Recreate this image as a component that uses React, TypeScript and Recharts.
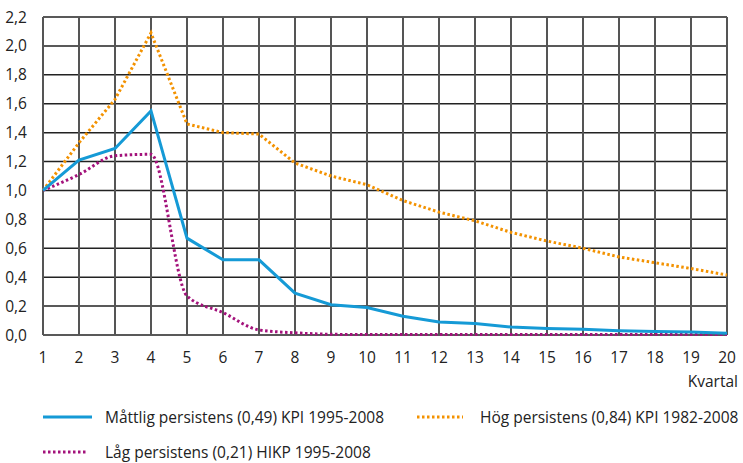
import { CartesianGrid, Line, LineChart, XAxis, YAxis } from 'recharts';

const quarters = [1, 2, 3, 4, 5, 6, 7, 8, 9, 10, 11, 12, 13, 14, 15, 16, 17, 18, 19, 20];
const moderate = [1.0, 1.21, 1.29, 1.55, 0.67, 0.52, 0.52, 0.29, 0.21, 0.19, 0.13, 0.09, 0.08, 0.055, 0.045, 0.04, 0.03, 0.025, 0.02, 0.012];
const high = [1.0, 1.33, 1.63, 2.09, 1.46, 1.4, 1.39, 1.19, 1.1, 1.04, 0.93, 0.85, 0.79, 0.71, 0.65, 0.6, 0.54, 0.5, 0.46, 0.415];
const low = [1.0, 1.11, 1.24, 1.25, 0.27, 0.155, 0.035, 0.015, 0.005, 0.003, 0.003, 0.003, 0.003, 0.003, 0.003, 0.003, 0.003, 0.003, 0.003, 0.003];
const yTicks = [0, 0.2, 0.4, 0.6, 0.8, 1.0, 1.2, 1.4, 1.6, 1.8, 2.0, 2.2];

const BLUE = '#159ad6';
const ORANGE = '#f39200';
const PURPLE = '#a3127b';
const FONT = '"Open Sans", "Noto Sans", sans-serif';
const FS = 15.5;

const data = quarters.map((q, i) => ({ q, moderate: moderate[i], high: high[i], low: low[i] }));

function LegendItem({ color, dashed, label, lineW, gap }: { color: string; dashed?: boolean; label: string; lineW: number; gap: number }) {
  return (
    <div style={{ display: 'flex', alignItems: 'center', whiteSpace: 'nowrap' }}>
      <svg width={lineW} height={6} style={{ marginRight: gap }}>
        <line x1={0} y1={3} x2={lineW} y2={3} stroke={color} strokeWidth={3} strokeDasharray={dashed ? '2.5 2.5' : undefined} />
      </svg>
      <span>{label}</span>
    </div>
  );
}

export default function App() {
  const tickStyle = { fill: '#222', fontSize: FS, fontFamily: FONT };
  const legendBox = { position: 'absolute' as const, fontSize: FS, color: '#222', lineHeight: '20px' };
  return (
    <div style={{ position: 'absolute', left: 0, top: 0, width: 743, height: 463, background: '#fff', fontFamily: FONT }}>
      <LineChart width={743} height={463} data={data} margin={{ top: 17, right: 16, left: 0, bottom: 0 }}>
        <CartesianGrid vertical={false} stroke="#222" strokeWidth={1.5} />
        <CartesianGrid horizontal={false} stroke="#555" strokeWidth={2} />
        <XAxis
          dataKey="q"
          type="number"
          domain={[1, 20]}
          ticks={quarters}
          height={128}
          axisLine={false}
          tickLine={false}
          tickMargin={11}
          tick={tickStyle}
        />
        <YAxis
          type="number"
          domain={[0, 2.2]}
          ticks={yTicks}
          width={43}
          axisLine={false}
          tickLine={false}
          tickMargin={10}
          tick={tickStyle}
          tickFormatter={(v: number) => v.toFixed(1).replace('.', ',')}
        />
        <Line type="linear" dataKey="high" stroke={ORANGE} strokeWidth={3} strokeDasharray="2.5 2.5" dot={false} isAnimationActive={false} />
        <Line type="monotone" dataKey="low" stroke={PURPLE} strokeWidth={3} strokeDasharray="2.5 2.5" dot={false} isAnimationActive={false} />
        <Line type="linear" dataKey="moderate" stroke={BLUE} strokeWidth={3} dot={false} isAnimationActive={false} />
      </LineChart>
      <div style={{ ...legendBox, right: 5, top: 371 }}>Kvartal</div>
      <div style={{ ...legendBox, left: 43, top: 407 }}>
        <LegendItem color={BLUE} lineW={49} gap={13} label="Måttlig persistens (0,49) KPI 1995-2008" />
      </div>
      <div style={{ ...legendBox, left: 417, top: 407 }}>
        <LegendItem color={ORANGE} dashed lineW={46} gap={17} label="Hög persistens (0,84) KPI 1982-2008" />
      </div>
      <div style={{ ...legendBox, left: 43, top: 442 }}>
        <LegendItem color={PURPLE} dashed lineW={44} gap={18} label="Låg persistens (0,21) HIKP 1995-2008" />
      </div>
    </div>
  );
}
